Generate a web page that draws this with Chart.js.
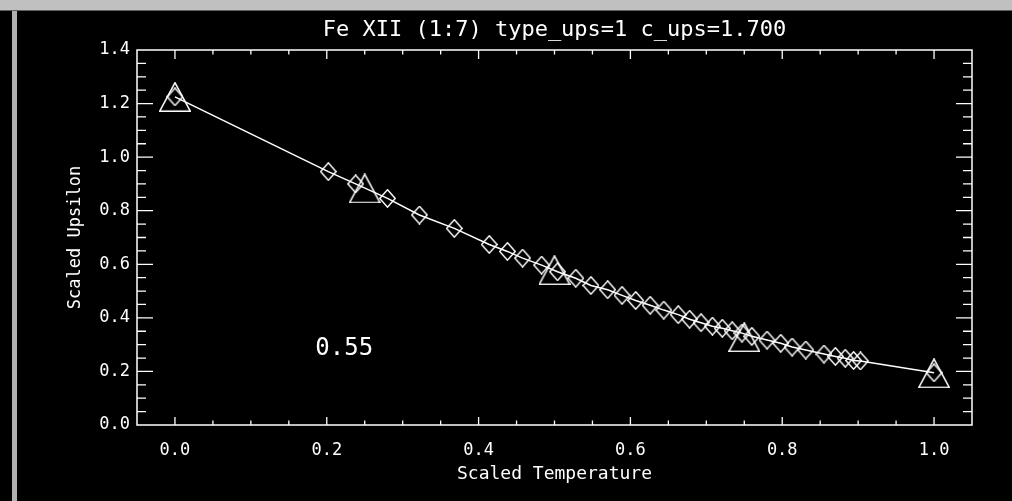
<!DOCTYPE html>
<html>
<head>
<meta charset="utf-8">
<script src="https://cdn.jsdelivr.net/npm/chart.js@4.4.1/dist/chart.umd.min.js"></script>
<style>
  html, body { margin: 0; padding: 0; background: #000; width: 1012px; height: 501px; overflow: hidden; }
  #wrap { position: absolute; left: 0; top: 0; width: 1012px; height: 501px; }
  #frameTop { position: absolute; left: 0; top: 0; width: 1012px; height: 10px; background: #c0c0c0; border-bottom: 1px solid #606060; }
  #frameLeft { position: absolute; left: 12px; top: 11px; width: 5px; height: 490px; background: #b0b0b0; }
</style>
</head>
<body>
<div id="wrap"><canvas id="chart" width="1012" height="501"></canvas></div>
<div id="frameTop"></div>
<div id="frameLeft"></div>
<script>
// Scaled temperature / scaled upsilon data points (diamonds, joined by a line)
const temperature = [0.000, 0.202, 0.238, 0.280, 0.322, 0.368, 0.414, 0.438, 0.458, 0.483,
                     0.504, 0.528, 0.548, 0.570, 0.589, 0.607, 0.626, 0.644, 0.663, 0.678,
                     0.693, 0.708, 0.721, 0.734, 0.747, 0.760, 0.780, 0.798, 0.813, 0.831,
                     0.855, 0.870, 0.883, 0.894, 0.903, 1.000];
const upsilon = [1.225, 0.946, 0.900, 0.846, 0.784, 0.734, 0.674, 0.648, 0.623, 0.597,
                 0.572, 0.548, 0.521, 0.505, 0.484, 0.465, 0.447, 0.429, 0.412, 0.395,
                 0.382, 0.369, 0.361, 0.352, 0.343, 0.331, 0.317, 0.305, 0.291, 0.280,
                 0.265, 0.256, 0.249, 0.241, 0.239, 0.195];

// Five-point spline knots (triangles)
const splineT = [0.00, 0.25, 0.50, 0.75, 1.00];
const splineUps = [1.225, 0.883, 0.578, 0.328, 0.193];

// Axis ticks
const xTickValues = [0.0, 0.2, 0.4, 0.6, 0.8, 1.0];
const xTickLabels = ['0.0', '0.2', '0.4', '0.6', '0.8', '1.0'];
const yTickValues = [0.0, 0.2, 0.4, 0.6, 0.8, 1.0, 1.2, 1.4];
const yTickLabels = ['0.0', '0.2', '0.4', '0.6', '0.8', '1.0', '1.2', '1.4'];
const minorStep = 0.05;

const plotTitle = 'Fe XII (1:7) type_ups=1 c_ups=1.700';
const xTitle = 'Scaled Temperature';
const yTitle = 'Scaled Upsilon';
const noteText = '0.55';

const FONT = 'DejaVu Sans Mono';
const FG = '#ffffff';

// Hollow marker images (drawn centred on each point)
function makeDiamond(w, h) {
  const c = document.createElement('canvas');
  c.width = w; c.height = h;
  const g = c.getContext('2d');
  g.strokeStyle = FG; g.lineWidth = 1.4;
  g.beginPath();
  g.moveTo(w / 2, 0.8); g.lineTo(w - 0.8, h / 2); g.lineTo(w / 2, h - 0.8); g.lineTo(0.8, h / 2);
  g.closePath(); g.stroke();
  return c;
}
function makeTriangle(w, h) {
  const c = document.createElement('canvas');
  c.width = w; c.height = h;
  const g = c.getContext('2d');
  g.strokeStyle = FG; g.lineWidth = 1.5;
  g.beginPath();
  g.moveTo(0.8, h - 0.8); g.lineTo(w / 2, 0.8); g.lineTo(w - 0.8, h - 0.8);
  g.closePath(); g.stroke();
  return c;
}
const diamondImg = makeDiamond(17, 19);
const triangleImg = makeTriangle(32, 30);

function fixTicks(values) {
  return scale => { scale.ticks = values.map(v => ({ value: v })); };
}

// Plot box with inward major/minor tick marks on all four sides, plus the note
const idlFrame = {
  id: 'idlFrame',
  afterDraw(chart) {
    const { ctx, chartArea: a, scales } = chart;
    const xs = scales.x, ys = scales.y;
    ctx.save();
    ctx.strokeStyle = FG;
    ctx.lineWidth = 1.5;
    ctx.strokeRect(a.left, a.top, a.right - a.left, a.bottom - a.top);
    ctx.lineWidth = 1.3;
    ctx.beginPath();
    const isMajor = (v, list) => list.some(t => Math.abs(t - v) < 1e-6);
    for (let v = xs.min; v <= xs.max + 1e-9; v += minorStep) {
      const vv = Math.round(v * 100) / 100;
      const px = xs.getPixelForValue(vv);
      if (px < a.left + 1 || px > a.right - 1) continue;
      const major = isMajor(vv, xTickValues);
      const lb = major ? 8 : 4.5, lt = major ? 9 : 4.5;
      ctx.moveTo(px, a.bottom); ctx.lineTo(px, a.bottom - lb);
      ctx.moveTo(px, a.top); ctx.lineTo(px, a.top + lt);
    }
    for (let v = ys.min; v <= ys.max + 1e-9; v += minorStep) {
      const vv = Math.round(v * 100) / 100;
      const py = ys.getPixelForValue(vv);
      if (py > a.bottom - 1 || py < a.top + 1) continue;
      const major = isMajor(vv, yTickValues);
      const l = major ? 16 : 9;
      ctx.moveTo(a.left, py); ctx.lineTo(a.left + l, py);
      ctx.moveTo(a.right, py); ctx.lineTo(a.right - l, py);
    }
    ctx.stroke();

    ctx.fillStyle = FG;
    ctx.font = '24px "' + FONT + '"';
    ctx.textAlign = 'center';
    ctx.textBaseline = 'middle';
    ctx.fillText(noteText, xs.getPixelForValue(0.223), ys.getPixelForValue(0.285));
    ctx.restore();
  }
};

new Chart(document.getElementById('chart'), {
  type: 'scatter',
  data: {
    datasets: [
      {
        data: temperature.map((t, i) => ({ x: t, y: upsilon[i] })),
        showLine: true,
        borderColor: FG,
        borderWidth: 1.5,
        tension: 0,
        pointStyle: diamondImg,
        pointRadius: 8,
        pointHoverRadius: 8
      },
      {
        data: splineT.map((t, i) => ({ x: t, y: splineUps[i] })),
        showLine: false,
        pointStyle: triangleImg,
        pointRadius: 15,
        pointHoverRadius: 15
      }
    ]
  },
  options: {
    responsive: false,
    animation: false,
    devicePixelRatio: 1,
    layout: { padding: 0 },
    events: [],
    plugins: { legend: { display: false }, tooltip: { enabled: false } },
    scales: {
      x: {
        type: 'linear', position: 'bottom', min: -0.05, max: 1.05,
        afterBuildTicks: fixTicks(xTickValues),
        afterFit: s => { s.height = 76; },
        grid: { display: false, drawTicks: false },
        border: { display: false },
        ticks: {
          color: FG, padding: 15, maxRotation: 0, autoSkip: false,
          font: { family: FONT, size: 17 },
          callback: v => xTickLabels[xTickValues.findIndex(t => Math.abs(t - v) < 1e-6)]
        },
        title: { display: true, text: xTitle, color: FG, font: { family: FONT, size: 18 }, padding: { top: 0, bottom: 16 } }
      },
      x2: {
        type: 'linear', position: 'top', min: -0.05, max: 1.05,
        afterFit: s => { s.height = 50; },
        grid: { display: false, drawTicks: false },
        border: { display: false },
        ticks: { display: false },
        title: { display: true, text: plotTitle, color: FG, font: { family: FONT, size: 22 }, padding: { top: 17, bottom: 0 } }
      },
      y: {
        type: 'linear', position: 'left', min: 0, max: 1.4,
        afterBuildTicks: fixTicks(yTickValues),
        afterFit: s => { s.width = 137; },
        grid: { display: false, drawTicks: false },
        border: { display: false },
        ticks: {
          color: FG, padding: 7, autoSkip: false,
          font: { family: FONT, size: 17 },
          callback: v => yTickLabels[yTickValues.findIndex(t => Math.abs(t - v) < 1e-6)]
        },
        title: { display: true, text: yTitle, color: FG, font: { family: FONT, size: 17 }, padding: { top: 65, bottom: 0 } }
      },
      y2: {
        type: 'linear', position: 'right', min: 0, max: 1.4,
        afterFit: s => { s.width = 40; },
        grid: { display: false, drawTicks: false },
        border: { display: false },
        ticks: { display: false }
      }
    }
  },
  plugins: [idlFrame]
});
</script>
</body>
</html>
